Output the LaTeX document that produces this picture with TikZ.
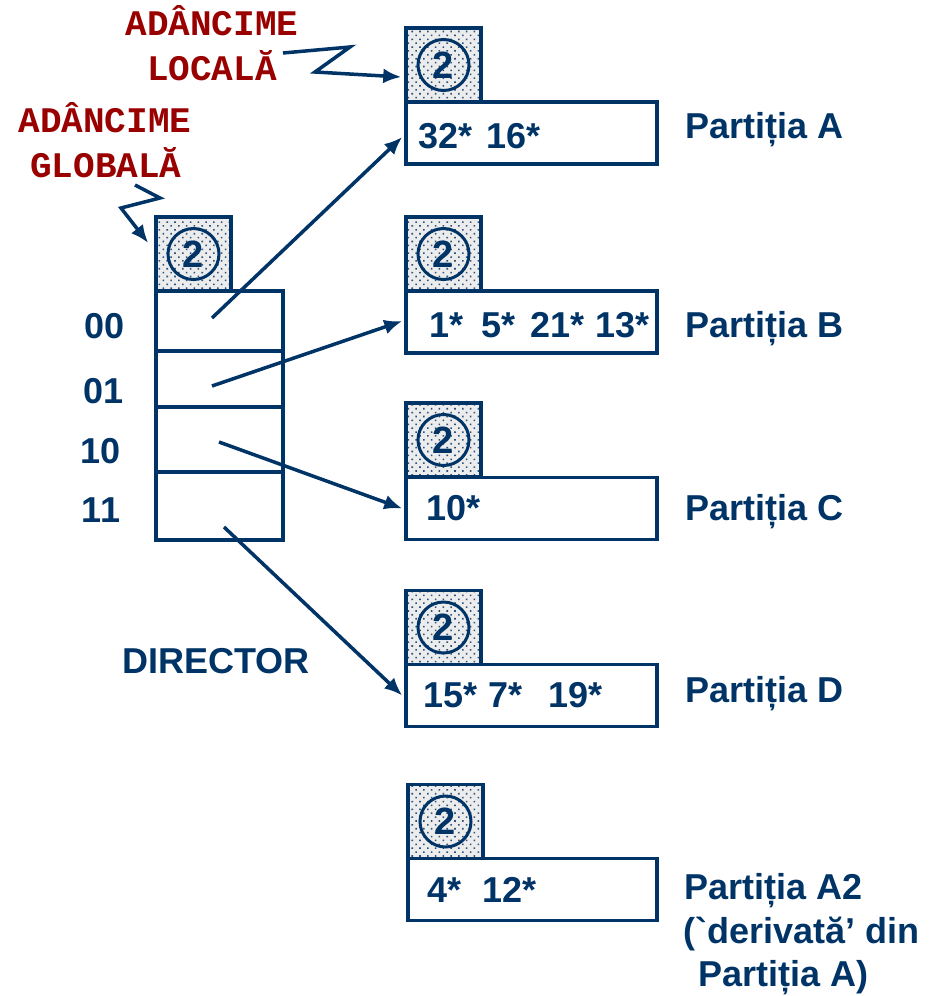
\documentclass[tikz,border=0pt]{standalone}
\usepackage{fontspec}
\setmainfont{Liberation Sans}
\newfontfamily\monofam{Liberation Mono}
\usetikzlibrary{arrows.meta,patterns.meta,calc}
\definecolor{navy}{RGB}{0,51,102}
\definecolor{dred}{RGB}{153,0,0}
\newcommand{\bigsf}{\fontsize{36}{40}\selectfont\bfseries}
\tikzset{
  bucket/.style={draw=navy,line width=3.5pt,rectangle,inner sep=0pt,minimum width=251pt,minimum height=62pt},
  depthbox/.style={draw=navy,line width=3.5pt,rectangle,inner sep=0pt,minimum width=75pt,minimum height=74pt,
    preaction={fill=gray!15},
    preaction={pattern={Dots[angle=45,distance=5.5pt,radius=1.1pt]},pattern color=navy!85}},
  circ/.style={circle,draw=navy,line width=3pt,minimum size=51pt,inner sep=0pt,text=navy,
    font=\fontsize{38}{38}\selectfont\bfseries},
  dirrow/.style={draw=navy,line width=3.5pt,rectangle,inner sep=0pt,minimum width=127pt},
  txt/.style={inner sep=0pt,anchor=base west,text=navy,font=\bigsf},
  ctxt/.style={inner sep=0pt,anchor=base,text=navy,font=\bigsf},
  mono/.style={inner sep=0pt,anchor=base,text=dred,font=\monofam\fontsize{36}{40}\selectfont\bfseries},
  conn/.style={draw=navy,line width=3.5pt,-{Latex[length=18pt,width=15pt]}},
  zig/.style={draw=navy,line width=3.5pt,line join=miter,-{Latex[length=18pt,width=15pt]}}
}
\begin{document}
\begin{tikzpicture}[x=1pt,y=-1pt]
\useasboundingbox (0,0) rectangle (931,996);

% directory
\node[depthbox] (dg) at (193.5,254) {};
\node[circ] (cg) at (dg.center) {2};
\node[dirrow,minimum height=60pt] (d00) at (219.5,321) {};
\node[dirrow,minimum height=56pt] (d01) at (219.5,379) {};
\node[dirrow,minimum height=65pt] (d10) at (219.5,439.5) {};
\node[dirrow,minimum height=68pt] (d11) at (219.5,506) {};
\node[ctxt] (l00) at (105,338) {00};
\node[ctxt] (l01) at (104,403) {01};
\node[ctxt] (l10) at (101,463) {10};
\node[ctxt] (l11) at (101,522) {11};
\node[txt] (dirlab) at (122,673) {DIRECTOR};

% buckets
\node[depthbox] (dA) at (443.5,65) {};
\node[circ] (cA) at (dA.center) {2};
\node[bucket] (bA) at (531.5,133) {};
\node[txt] (tA1) at (418,148) {32*};
\node[txt] (tA2) at (486,148) {16*};
\node[txt] (nA) at (685,138) {Partiția A};

\node[depthbox] (dB) at (443.5,254) {};
\node[circ] (cB) at (dB.center) {2};
\node[bucket] (bB) at (531.5,322) {};
\node[txt] (tB1) at (429,337) {1*};
\node[txt] (tB2) at (481,337) {5*};
\node[txt] (tB3) at (530,337) {21*};
\node[txt] (tB4) at (595,337) {13*};
\node[txt] (nB) at (685,337) {Partiția B};

\node[depthbox] (dC) at (443.5,440) {};
\node[circ] (cC) at (dC.center) {2};
\node[bucket] (bC) at (531.5,508.5) {};
\node[txt] (tC1) at (426,520) {10*};
\node[txt] (nC) at (685,520) {Partiția C};

\node[depthbox] (dD) at (443.5,627.5) {};
\node[circ] (cD) at (dD.center) {2};
\node[bucket] (bD) at (531.5,695.5) {};
\node[txt] (tD1) at (423,707) {15*};
\node[txt] (tD2) at (488,707) {7*};
\node[txt] (tD3) at (548,707) {19*};
\node[txt] (nD) at (685,702) {Partiția D};

\node[depthbox] (dA2) at (445.5,821.5) {};
\node[circ] (cA2) at (dA2.center) {2};
\node[bucket,minimum width=249pt] (bA2) at (532.5,889.5) {};
\node[txt] (tE1) at (427,902) {4*};
\node[txt] (tE2) at (482,902) {12*};
\node[txt] (nE1) at (684,899) {Partiția A2};
\node[txt] (nE2) at (683,943) {(\textasciigrave derivată’ din};
\node[txt] (nE3) at (698,986) {Partiția A)};

% labels
\node[mono] (loc1) at (212,35) {ADÂNCIME};
\node[mono] (loc2) at (212,80) {LOCALĂ};
\node[mono] (glo1) at (105,132) {ADÂNCIME};
\node[mono] (glo2) at (106,177) {GLOBALĂ};

% connectors
\coordinate (s00) at (212,318);
\coordinate (s01) at (212,386);
\coordinate (s10) at (219,442);
\coordinate (s11) at (224,527);
\draw[conn] (s00) -- ($(bA.west)+(-2,4)$);
\draw[conn] (s01) -- ($(bB.west)+(-2,-1)$);
\draw[conn] (s10) -- ($(bC.west)+(-2,0)$);
\draw[conn] (s11) -- ($(bD.west)+(-2,0)$);

\coordinate (zl) at (283,53);
\draw[zig] (zl) -- (350,47) -- (315,72) -- ($(dA.west)+(-3,12)$);
\coordinate (zg) at (135,185);
\draw[zig] (zg) -- (160,198) -- (121,208) -- ($(dg.west)+(-6,-11)$);
\end{tikzpicture}
\end{document}
